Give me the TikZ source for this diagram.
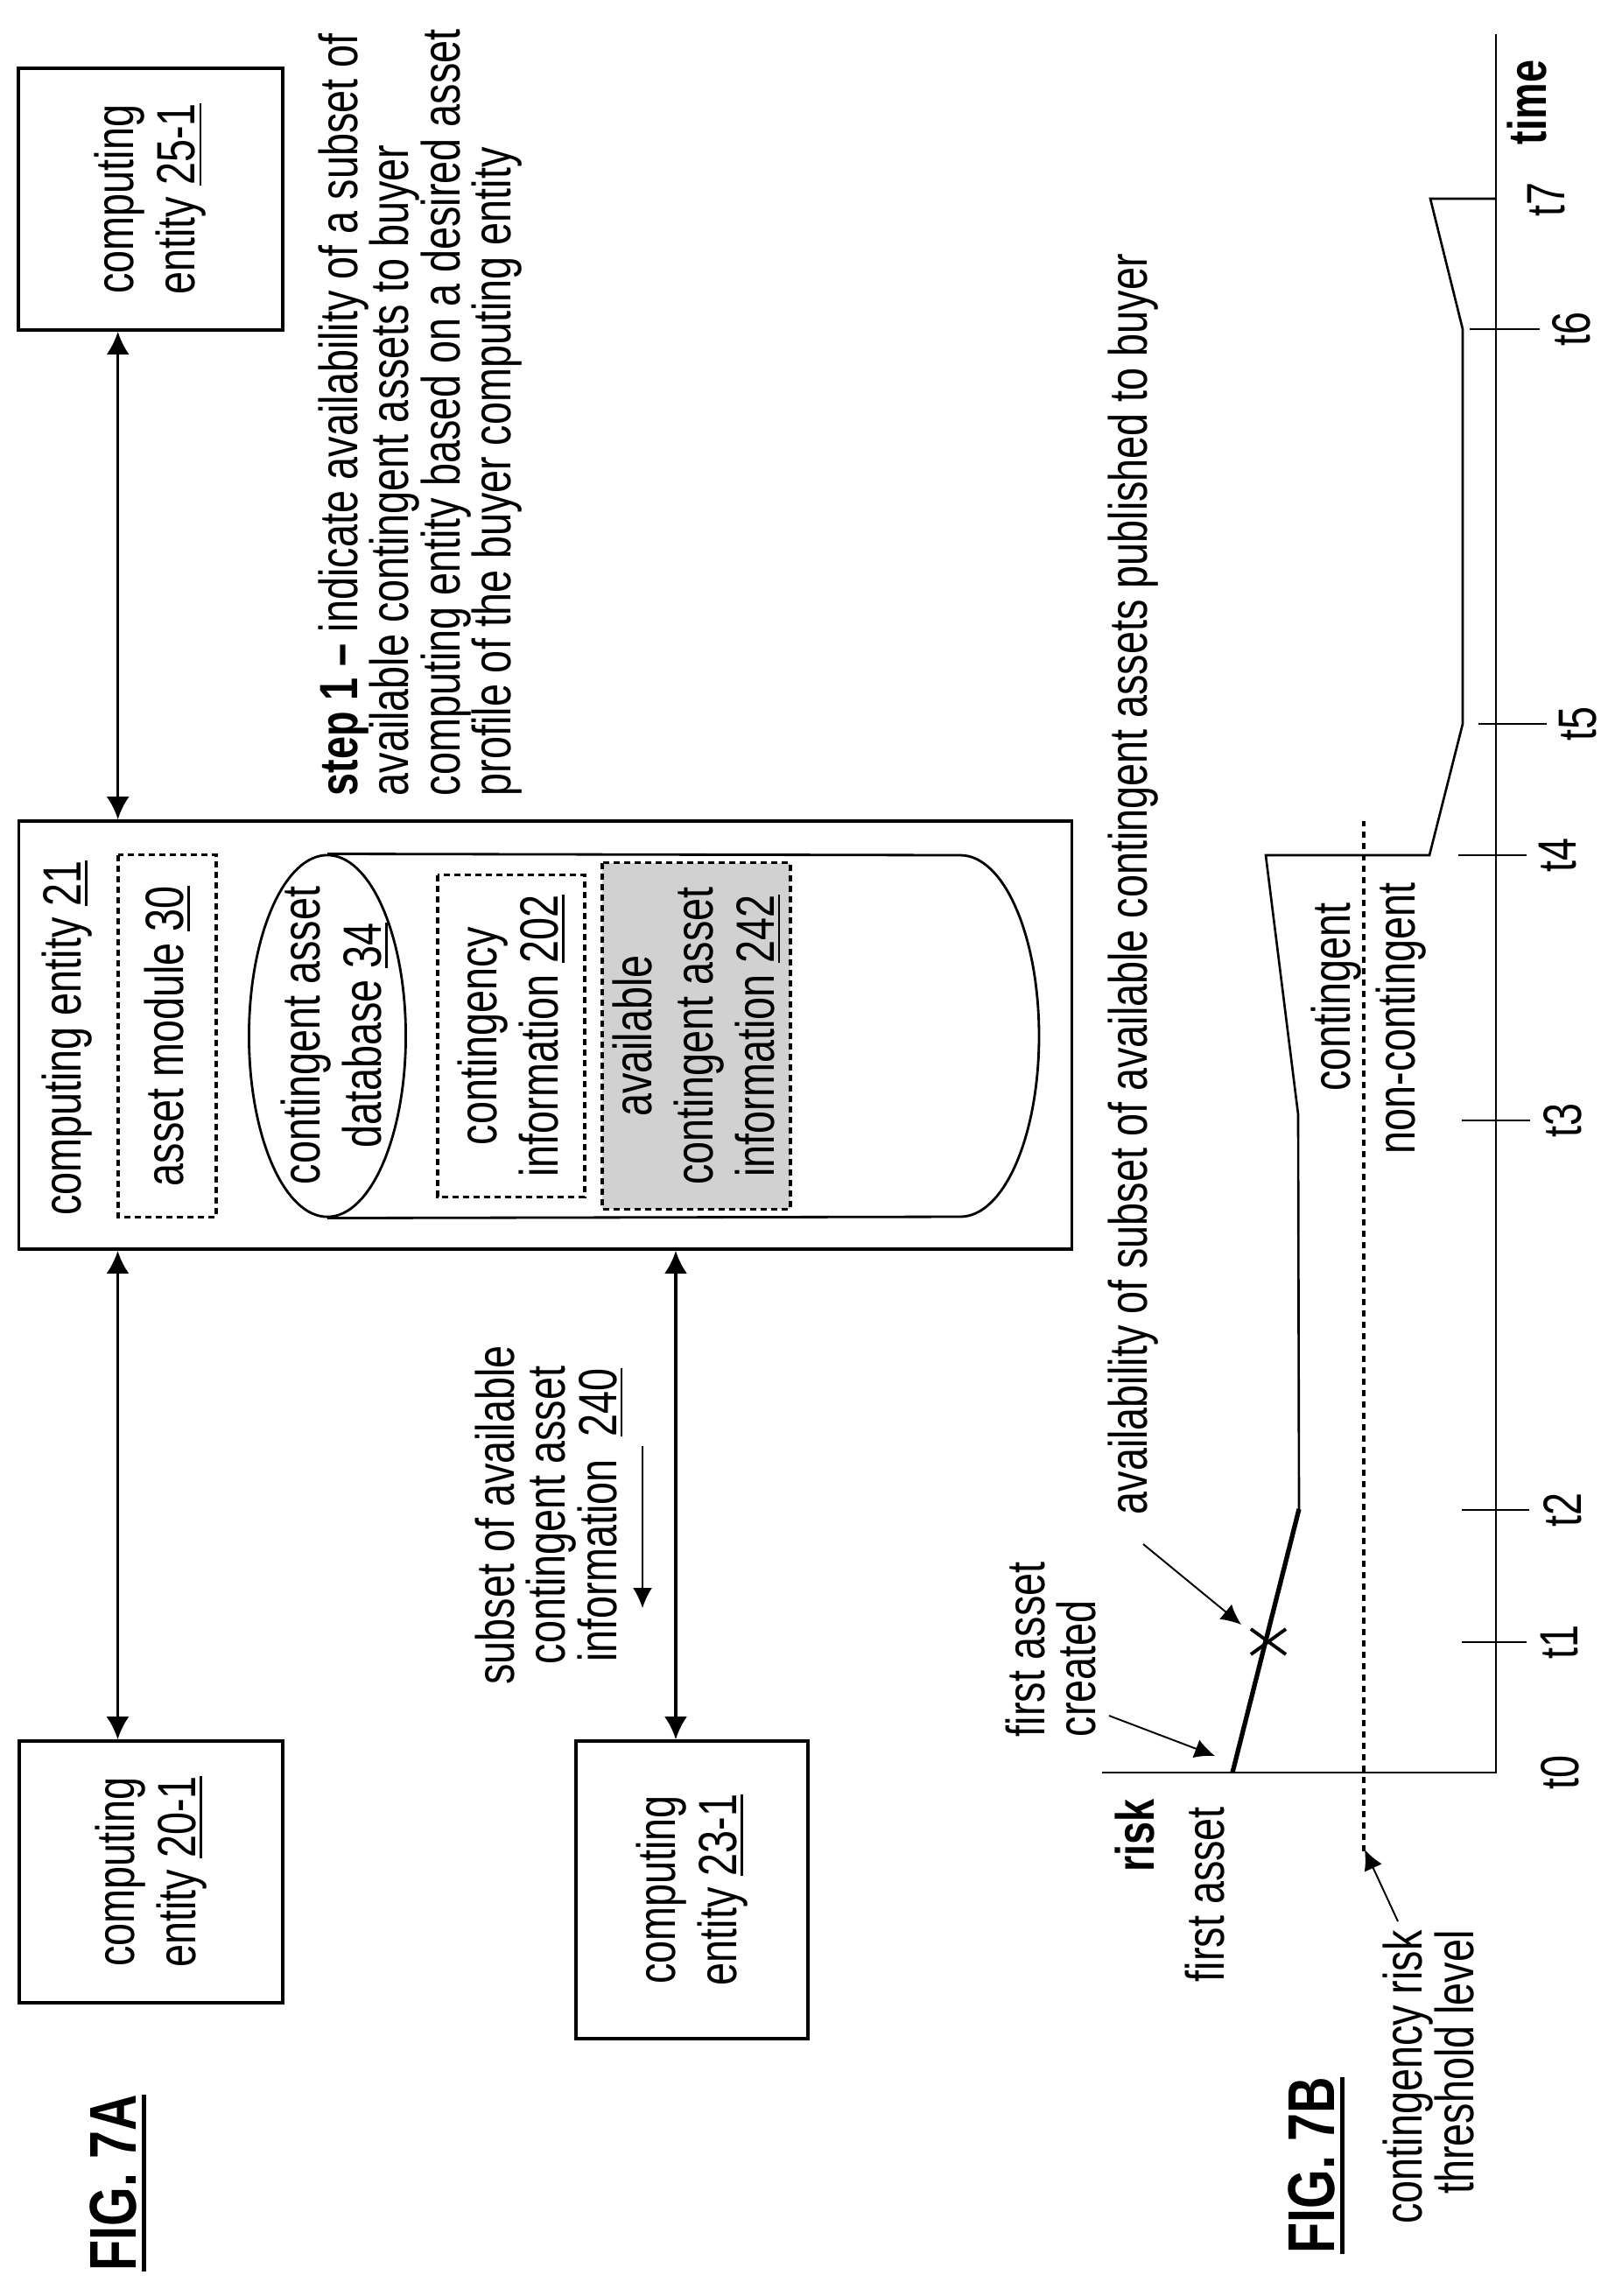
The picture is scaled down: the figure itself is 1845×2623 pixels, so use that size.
\documentclass[tikz,border=0pt]{standalone}
\usepackage{fontspec}
\setmainfont[FakeStretch=0.76]{Liberation Sans}
\usetikzlibrary{shapes,arrows.meta}
\newcommand{\refnum}[1]{\vtop{\hbox{#1}\kern 1.2pt\hrule height 0.7pt}}
\newcommand{\figname}[1]{\vtop{\hbox{#1}\kern 1.5pt\hrule height 1.4pt}}

\begin{document}
\begin{tikzpicture}[x=0.01cm,y=-0.01cm,>={Latex[length=0.26cm,width=0.26cm]}]
	\tikzstyle{txt} = [font=\fontsize{17.5}{16.6}\selectfont, align=center, rotate=90, inner sep=0pt]
	\tikzstyle{wide} = [txt, font=\fontsize{17.5}{19.9}\selectfont]
	\tikzstyle{fig} = [font=\fontsize{21.5}{24}\selectfont\bfseries, rotate=90, inner sep=0pt]
	\tikzstyle{ent} = [wide, draw=black, line width=1pt, fill=white]
	\tikzstyle{dbox} = [wide, draw=black, line width=0.9pt, dash pattern=on 0.07cm off 0.05cm]
	\tikzstyle{conn} = [line width=0.9pt]
	\tikzstyle{lead} = [line width=0.55pt, >={Latex[length=0.23cm,width=0.22cm]}]
	\tikzstyle{gline} = [line width=0.75pt]
	\useasboundingbox (0,0) rectangle (1845,2623);

	\node[ent, minimum width=2.99cm, minimum height=3.02cm] (Ent25) at (172,227.5) {computing\\entity \refnum{25-1}};
	\node[ent, minimum width=4.89cm, minimum height=12.02cm] (Ent21) at (623,1182.5) {};
	\node[ent, minimum width=2.99cm, minimum height=3.01cm] (Ent20) at (172.5,2138.5) {computing\\entity \refnum{20-1}};
	\node[ent, minimum width=3.4cm, minimum height=2.65cm] (Ent23) at (790.5,2159) {computing\\entity \refnum{23-1}};

	\draw[<->, conn] ([xshift=-0.373cm]Ent25.west) -- ([xshift=-0.373cm]Ent25.west |- Ent21.east);
	\draw[<->, conn] ([xshift=-0.38cm]Ent20.east) -- ([xshift=-0.38cm]Ent20.east |- Ent21.west);
	\draw[<->, conn] ([xshift=-0.185cm]Ent23.east) -- ([xshift=-0.185cm]Ent23.east |- Ent21.west);

	\node[wide] (EntLabel) at (77,1186) {computing entity \refnum{21}};
	\node[dbox, minimum width=4.13cm, minimum height=1.12cm] (Module) at (191,1183.5) {asset module \refnum{30}};

	% cylinder body first, then the cap
	\node[draw=black, line width=0.8pt, shape=ellipse, rotate=90, inner sep=0pt, minimum width=4.13cm, minimum height=1.79cm] (Db) at (374,1183.5) {};
	\node[wide] (DbLabel) at (382,1183) {contingent asset\\database \refnum{34}};
	\coordinate (BodyTop) at (1097,977);
	\coordinate (BodyEnd) at (1187,1183.5);
	\coordinate (BodyBot) at (1097,1390);
	\draw[line width=0.8pt] (Db.east) -- (BodyTop) .. controls (1147,977) and (1187,1069.5) .. (BodyEnd) .. controls (1187,1297.5) and (1147,1390) .. (BodyBot) -- (Db.west);

	\node[dbox, minimum width=3.67cm, minimum height=1.68cm] (ContInfo) at (584,1183.5) {contingency\\information \refnum{202}};
	\node[dbox, fill=black!18, minimum width=3.95cm, minimum height=2.15cm] (AvailInfo) at (795.5,1183.5) {available\\contingent asset\\information \refnum{242}};

	\node[txt, align=left, anchor=north west] (Step) at (363,910) {\textbf{step\ 1\ –}\ indicate availability of a subset of\\available contingent assets to buyer\\computing entity based on a desired asset\\profile of the buyer computing entity};
	\node[txt] (Subset) at (627,1731) {subset of available\\contingent asset\\information\ \ \refnum{240}};
	\coordinate (SubTail) at (734,1652);
	\coordinate (SubHead) at (734,1837);
	\draw[->, lead] (SubTail) -- (SubHead);

	\node[fig] (FigA) at (135,2494) {\figname{FIG. 7A}};
	\node[fig] (FigB) at (1504,2474) {\figname{FIG. 7B}};

	% time axis and risk axis
	\draw[gline] (1259,2025) -- (1709,2025) -- (1709,39);
	\draw[line width=0.9pt, dash pattern=on 0.07cm off 0.06cm] (1558,2115) -- (1558,938);
	\draw[line width=1.5pt] (1408,2025) -- (1484,1724);
	\draw[gline] (1484,1724) -- (1483,1273) -- (1446,977) -- (1633,977) -- (1671,827) -- (1671,376) -- (1634,227) -- (1709,227);

	\draw[gline] (1670,1876) -- (1744,1876);
	\draw[gline] (1670,1725) -- (1747,1725);
	\draw[gline] (1670,1280) -- (1748,1280);
	\draw[gline] (1666,977) -- (1744,977);
	\draw[gline] (1689,827) -- (1767,827);
	\draw[gline] (1679,376) -- (1759,376);

	\draw[line width=1.1pt] (1429,1861) -- (1469,1890);
	\draw[line width=1.1pt] (1429,1890) -- (1469,1861);

	\node[txt] (T0) at (1782,2025) {t0};
	\node[txt] (T1) at (1782,1876) {t1};
	\node[txt] (T2) at (1785,1725) {t2};
	\node[txt] (T3) at (1785,1280) {t3};
	\node[txt] (T4) at (1780,977) {t4};
	\node[txt] (T5) at (1803,827) {t5};
	\node[txt] (T6) at (1795,376) {t6};
	\node[txt] (T7) at (1767,228) {t7};
	\node[txt] (Time) at (1744,117) {\textbf{time}};

	\node[txt] (Risk) at (1296,2097) {\textbf{risk}};
	\node[txt] (First) at (1376,2164) {first asset};
	\node[txt, align=left, anchor=north west] (Created) at (1148,1985) {first asset\\created};
	\node[txt] (Avail) at (1295,1010) {availability of subset of available contingent assets published to buyer};
	\node[txt] (Cont) at (1527,1139) {contingent};
	\node[txt] (NonCont) at (1601,1163.5) {non-contingent};
	\node[txt, align=right] (Thresh) at (1632,2373) {contingency risk\\threshold level};

	\coordinate (CreatedTail) at (1267,1960);
	\coordinate (AvailTail) at (1306,1764);
	\coordinate (ThreshTail) at (1597,2195);
	\draw[->, lead] (CreatedTail) -- (1388,2006);
	\draw[->, lead] (AvailTail) -- (1418,1856);
	\draw[->, lead] (ThreshTail) -- (1559,2113);
\end{tikzpicture}
\end{document}
